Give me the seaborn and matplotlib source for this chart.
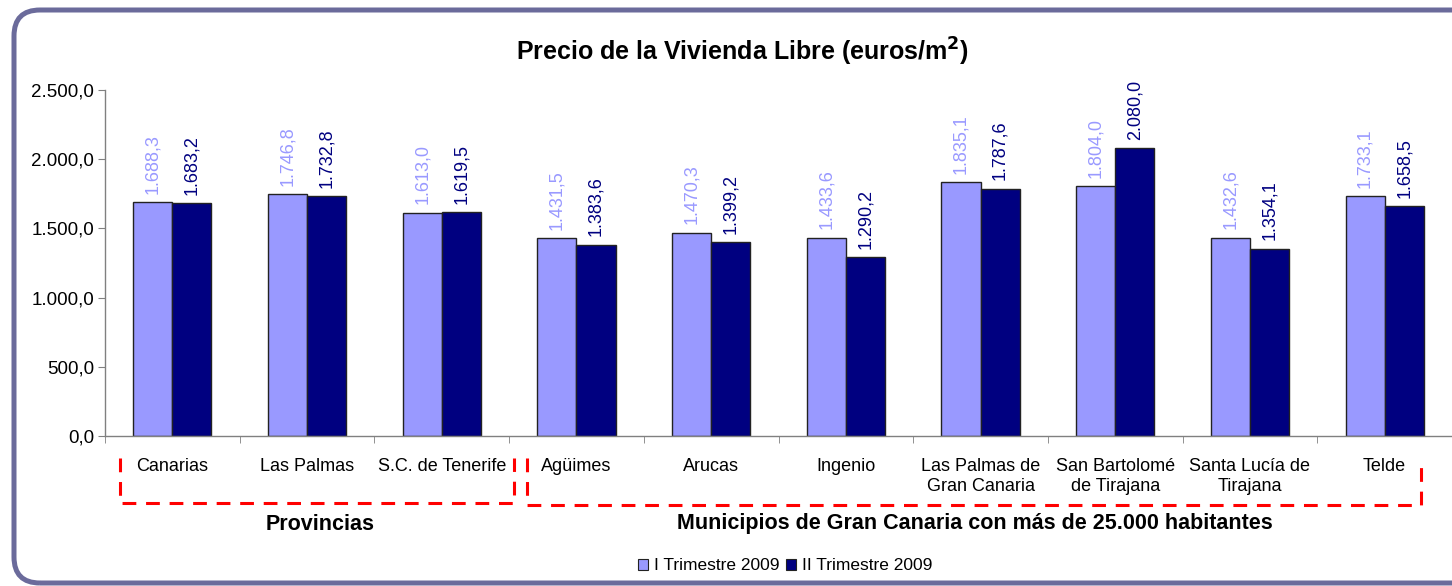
import numpy as np
import pandas as pd
import seaborn as sns
import matplotlib.pyplot as plt
from matplotlib.patches import FancyBboxPatch, Rectangle
from matplotlib.lines import Line2D
from matplotlib.ticker import FuncFormatter, FixedLocator
from matplotlib.transforms import IdentityTransform

sns.set_style("white")
plt.rcParams["font.family"] = ["Liberation Sans", "DejaVu Sans"]
plt.rcParams["text.color"] = "black"
plt.rcParams["xtick.color"] = "black"
plt.rcParams["ytick.color"] = "black"

# Data
categories = ["Canarias", "Las Palmas", "S.C. de Tenerife", "Agüimes", "Arucas",
              "Ingenio", "Las Palmas de\nGran Canaria", "San Bartolomé\nde Tirajana",
              "Santa Lucía de\nTirajana", "Telde"]
trim_1 = [1688.3, 1746.8, 1613.0, 1431.5, 1470.3, 1433.6, 1835.1, 1804.0, 1432.6, 1733.1]
trim_2 = [1683.2, 1732.8, 1619.5, 1383.6, 1399.2, 1290.2, 1787.6, 2080.0, 1354.1, 1658.5]
series = ["I Trimestre 2009", "II Trimestre 2009"]
colors = ["#9999FF", "#000080"]

df = pd.DataFrame({
    "cat": categories * 2,
    "val": trim_1 + trim_2,
    "serie": [series[0]] * len(categories) + [series[1]] * len(categories),
})

W, H = 1452, 586
fig = plt.figure(figsize=(W / 100, H / 100), dpi=100)


def fx(px):
    return px / W


def fy(py):
    return 1 - py / H


def fmt(v):
    return f"{v:,.1f}".replace(",", "X").replace(".", ",").replace("X", ".")


# Outer rounded frame in pixel coords (right side runs off the image)
frame = FancyBboxPatch((14, H - 583), 1600, 573,
                       boxstyle="round,pad=0,rounding_size=26",
                       transform=IdentityTransform(), facecolor="none",
                       edgecolor="#6B6B9B", linewidth=3.6, zorder=-1)
fig.patches.append(frame)

ax = fig.add_axes([fx(105), fy(436), 1 - fx(105), fy(90) - fy(436)])
ax.set_facecolor("none")

sns.barplot(data=df, x="cat", y="val", hue="serie", palette=colors,
            width=0.58, gap=0, edgecolor="#222222", linewidth=1.0,
            saturation=1, ax=ax, legend=False)

ax.set_ylim(0, 2500)
ax.set_xlim(-0.5, len(categories) - 0.5)
ax.set_yticks(np.arange(0, 2501, 500))
ax.yaxis.set_major_formatter(FuncFormatter(lambda v, p: fmt(v)))
ax.set_xlabel("")
ax.set_ylabel("")
ax.tick_params(axis="y", labelsize=13.5, length=5, color="#808080",
               direction="out", left=True, pad=3)
ax.tick_params(axis="x", which="major", length=0, labelsize=13, pad=16)
ax.xaxis.set_minor_locator(FixedLocator(np.arange(-0.5, len(categories), 1.0)))
ax.tick_params(axis="x", which="minor", length=5, color="#808080",
               direction="out", bottom=True)
for s in ["top", "right"]:
    ax.spines[s].set_visible(False)
for s in ["left", "bottom"]:
    ax.spines[s].set_color("#808080")
    ax.spines[s].set_linewidth(1.0)

for cont, col in zip(ax.containers, colors):
    ax.bar_label(cont, labels=[fmt(v) for v in cont.datavalues], rotation=90,
                 padding=6, color=col, fontsize=13)

fig.text(fx(742), fy(52), "Precio de la Vivienda Libre (euros/m$^{\\mathbf{2}}$)",
         ha="center", va="center", fontsize=18, fontweight="bold")

# red dashed group boxes
red_kw = dict(color="#FF0000", linewidth=2.2, linestyle=(0, (4.5, 3.2)),
              transform=fig.transFigure)
for x0, x1, yb in [(120, 514, 503), (527, 1421, 505)]:
    fig.lines.append(Line2D([fx(x0), fx(x0), fx(x1), fx(x1)],
                            [fy(458), fy(yb), fy(yb), fy(458)], **red_kw))

fig.text(fx(320), fy(525), "Provincias", ha="center", va="center",
         fontsize=15.5, fontweight="bold")
fig.text(fx(975), fy(524), "Municipios de Gran Canaria con más de 25.000 habitantes",
         ha="center", va="center", fontsize=15.5, fontweight="bold")

handles = [Rectangle((0, 0), 1, 1, facecolor=c, edgecolor="#222222", linewidth=0.8)
           for c in colors]
fig.legend(handles, series, loc="center", bbox_to_anchor=(fx(785), fy(566)),
           ncol=2, frameon=False, fontsize=12.5, handlelength=0.6,
           handleheight=0.6, handletextpad=0.3, columnspacing=0.4)

fig.savefig("out.png", dpi=100)
